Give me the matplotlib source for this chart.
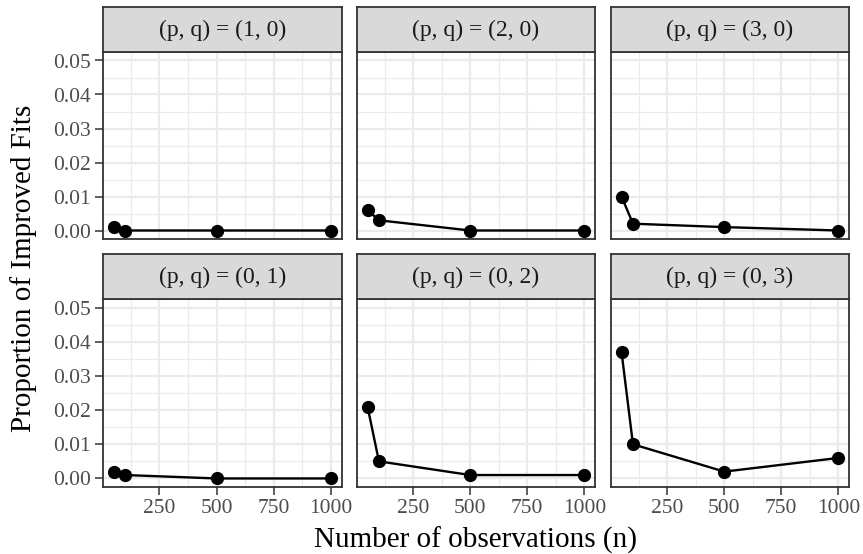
import numpy as np
import matplotlib.pyplot as plt

plt.rcParams['font.family'] = ['Liberation Serif', 'DejaVu Serif']

n_obs = [50, 100, 500, 1000]
titles = ["(p, q) = (1, 0)", "(p, q) = (2, 0)", "(p, q) = (3, 0)",
          "(p, q) = (0, 1)", "(p, q) = (0, 2)", "(p, q) = (0, 3)"]
prop_10 = [0.001, 0.000, 0.000, 0.000]
prop_20 = [0.006, 0.003, 0.000, 0.000]
prop_30 = [0.010, 0.002, 0.001, 0.000]
prop_01 = [0.002, 0.001, 0.000, 0.000]
prop_02 = [0.021, 0.005, 0.001, 0.001]
prop_03 = [0.037, 0.010, 0.002, 0.006]
all_props = [prop_10, prop_20, prop_30, prop_01, prop_02, prop_03]

fig = plt.figure(figsize=(8.63, 5.54), dpi=100)

W, H = 863.0, 554.0
col_left = [103, 356.7, 610.7]
pw = 238.5
rows = [(52, 239), (299, 487)]   # panel top, bottom in px
strip_h = 45

border = '#333333'
for i in range(6):
    r, c = divmod(i, 3)
    top, bot = rows[r]
    ax = fig.add_axes([col_left[c] / W, 1 - bot / H, pw / W, (bot - top) / H])
    sax = fig.add_axes([col_left[c] / W, 1 - top / H, pw / W, strip_h / H])
    sax.set_facecolor('#D9D9D9')
    sax.set_xticks([]); sax.set_yticks([])
    for s in sax.spines.values():
        s.set_color(border); s.set_linewidth(1.3)
    sax.text(0.5, 0.48, titles[i], ha='center', va='center', fontsize=17,
             color='#1A1A1A', transform=sax.transAxes)

    ax.set_xlim(2.5, 1047.5)
    ax.set_ylim(-0.0025, 0.0525)
    ax.set_xticks([250, 500, 750, 1000])
    ax.set_xticks([125, 375, 625, 875], minor=True)
    ax.set_yticks([0, 0.01, 0.02, 0.03, 0.04, 0.05])
    ax.set_yticks(np.arange(0.005, 0.05, 0.01), minor=True)
    ax.grid(True, which='major', color='#EBEBEB', linewidth=1.6)
    ax.grid(True, which='minor', color='#EBEBEB', linewidth=0.9)
    ax.set_axisbelow(True)
    for s in ax.spines.values():
        s.set_color(border); s.set_linewidth(1.3)
    ax.tick_params(which='minor', length=0)
    ax.tick_params(which='major', color=border, length=5.5, width=1.1,
                   labelsize=15.5, labelcolor='#4D4D4D', pad=3)
    ax.set_yticklabels(['0.00', '0.01', '0.02', '0.03', '0.04', '0.05'])
    if c != 0:
        ax.tick_params(axis='y', length=0, labelleft=False)
    if r == 0:
        ax.tick_params(axis='x', length=0, labelbottom=False)

    ax.plot(n_obs, all_props[i], color='black', linewidth=1.7, marker='o',
            markersize=8.5, zorder=3)

fig.text(475 / W, 1 - 540 / H, 'Number of observations (n)', ha='center',
         va='center', fontsize=21)
fig.text(24 / W, 1 - 268 / H, 'Proportion of Improved Fits', ha='center',
         va='center', rotation=90, fontsize=21)

fig.savefig('out.png', dpi=100)
